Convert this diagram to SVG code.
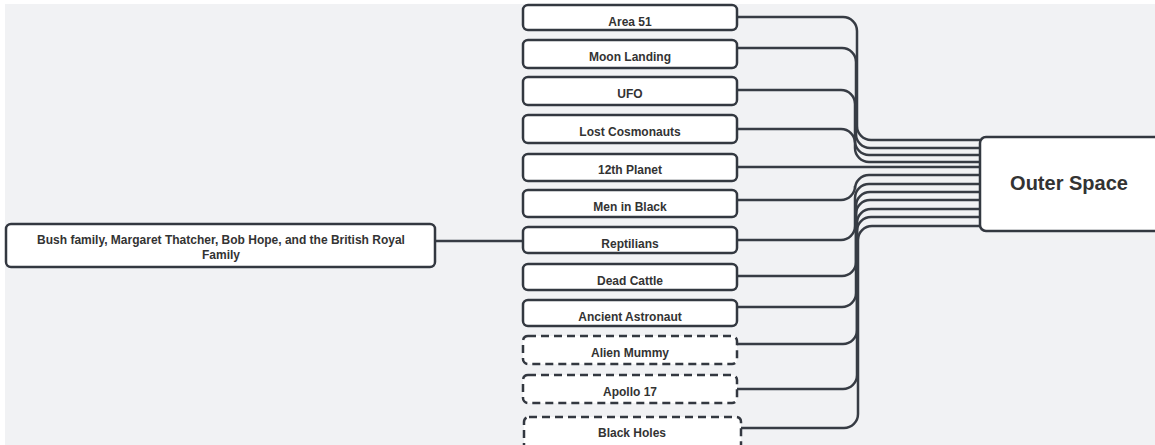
<svg xmlns="http://www.w3.org/2000/svg" width="1155" height="445" viewBox="0 0 1155 445">
<style>
.box{fill:#ffffff;stroke:#333840;stroke-width:2.5}
.dash{stroke-dasharray:8 5}
.t{font-family:"Liberation Sans",Arial,sans-serif;font-weight:bold;font-size:12px;fill:#333333;text-anchor:middle}
.big{font-size:20px}
.c{fill:none;stroke:#373c44;stroke-width:2.5}
</style>
<rect width="1155" height="445" fill="#ffffff"/>
<rect x="5" y="4" width="1150" height="441" fill="#f1f2f4"/>
<g id="connectors">
<path class="c" d="M435,241 H523"/>
<path class="c" d="M737,17 H843 A14,14 0 0 1 857,31 V126 A14,14 0 0 0 871,140 H980"/>
<path class="c" d="M737,48 H842 A14,14 0 0 1 856,62 V134 A14,14 0 0 0 870,148 H980"/>
<path class="c" d="M737,90 H841 A14,14 0 0 1 855,104 V141 A14,14 0 0 0 869,155 H980"/>
<path class="c" d="M737,129 H841 A14,14 0 0 1 855,143 V148 A14,14 0 0 0 869,162 H980"/>
<path class="c" d="M737,167 H980"/>
<path class="c" d="M737,200 H841 A14,14 0 0 0 855,186 V189 A14,14 0 0 1 869,175 H980"/>
<path class="c" d="M737,240 H841 A14,14 0 0 0 855,226 V198 A14,14 0 0 1 869,184 H980"/>
<path class="c" d="M737,276 H842 A14,14 0 0 0 856,262 V206 A14,14 0 0 1 870,192 H980"/>
<path class="c" d="M737,307 H842 A14,14 0 0 0 856,293 V214 A14,14 0 0 1 870,200 H980"/>
<path class="c" d="M737,344 H843 A14,14 0 0 0 857,330 V223 A14,14 0 0 1 871,209 H980"/>
<path class="c" d="M737,389 H843 A14,14 0 0 0 857,375 V231 A14,14 0 0 1 871,217 H980"/>
<path class="c" d="M741,428 H844 A14,14 0 0 0 858,414 V240 A14,14 0 0 1 872,226 H980"/>
</g>
<g id="outer-space">
<rect class="box" x="980" y="137" width="185" height="94" rx="6"/>
<text class="t big" x="1069" y="190">Outer Space</text>
</g>
<g id="left-node">
<rect class="box" x="6" y="224" width="429" height="43" rx="5"/>
<text class="t" x="221" y="244">Bush family, Margaret Thatcher, Bob Hope, and the British Royal</text>
<text class="t" x="221" y="259">Family</text>
</g>
<g id="area51"><rect class="box" x="523" y="5" width="214" height="25" rx="5"/><text class="t" x="630" y="26">Area 51</text></g>
<g id="moon-landing"><rect class="box" x="523" y="40" width="214" height="28" rx="5"/><text class="t" x="630" y="61">Moon Landing</text></g>
<g id="ufo"><rect class="box" x="523" y="77" width="214" height="28" rx="5"/><text class="t" x="630" y="98">UFO</text></g>
<g id="lost-cosmonauts"><rect class="box" x="523" y="115" width="214" height="28" rx="5"/><text class="t" x="630" y="136">Lost Cosmonauts</text></g>
<g id="twelfth-planet"><rect class="box" x="523" y="154" width="214" height="27" rx="5"/><text class="t" x="630" y="174">12th Planet</text></g>
<g id="men-in-black"><rect class="box" x="523" y="190" width="214" height="27" rx="5"/><text class="t" x="630" y="211">Men in Black</text></g>
<g id="reptilians"><rect class="box" x="523" y="227" width="214" height="26" rx="5"/><text class="t" x="630" y="248">Reptilians</text></g>
<g id="dead-cattle"><rect class="box" x="523" y="264" width="214" height="26" rx="5"/><text class="t" x="630" y="285">Dead Cattle</text></g>
<g id="ancient-astronaut"><rect class="box" x="523" y="300" width="214" height="26" rx="5"/><text class="t" x="630" y="321">Ancient Astronaut</text></g>
<g id="alien-mummy"><rect class="box dash" x="523" y="336" width="214" height="28" rx="5"/><text class="t" x="630" y="357">Alien Mummy</text></g>
<g id="apollo-17"><rect class="box dash" x="523" y="375" width="214" height="28" rx="5"/><text class="t" x="630" y="396">Apollo 17</text></g>
<g id="black-holes"><rect class="box dash" x="524" y="417" width="217" height="40" rx="5"/><text class="t" x="632" y="437">Black Holes</text></g>
</svg>
